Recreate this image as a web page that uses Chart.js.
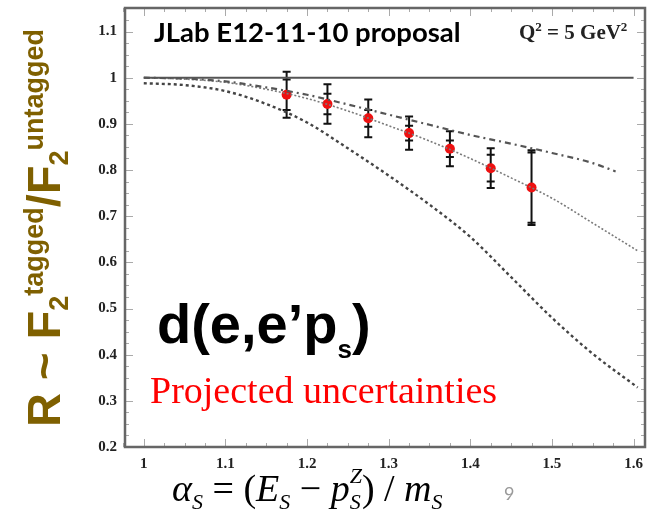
<!DOCTYPE html>
<html>
<head>
<meta charset="utf-8">
<script src="https://cdn.jsdelivr.net/npm/chart.js@4.4.1/dist/chart.umd.min.js"></script>
<style>
  html, body { margin: 0; padding: 0; background: #fff; }
</style>
</head>
<body>
<canvas id="ratio" width="651" height="516"></canvas>
<script>
// axis ticks
const alphaTicks = [1, 1.1, 1.2, 1.3, 1.4, 1.5, 1.6];
const ratioTicks = [0.2, 0.3, 0.4, 0.5, 0.6, 0.7, 0.8, 0.9, 1, 1.1];

// projected measurement: R with inner (stat) and outer (total) error bars
const alphaPoints = [1.175, 1.225, 1.275, 1.325, 1.375, 1.425, 1.475];
const ratioPoints = [0.963, 0.943, 0.912, 0.880, 0.846, 0.804, 0.762];
const statErr = [0.033, 0.022, 0.018, 0.016, 0.018, 0.029, 0.076];
const totalErr = [0.050, 0.043, 0.041, 0.036, 0.038, 0.043, 0.081];

// model curves
const flatAlpha = [1.0, 1.6];
const flatRatio = [1.0, 1.0];

const upperAlpha = [1.0, 1.05, 1.1, 1.15, 1.2, 1.25, 1.3, 1.35, 1.4, 1.45, 1.5, 1.55, 1.578];
const upperRatio = [1.0, 0.998, 0.992, 0.979, 0.963, 0.942, 0.920, 0.898, 0.876, 0.857, 0.837, 0.815, 0.797];

const midAlpha = [1.0, 1.05, 1.1, 1.15, 1.2, 1.25, 1.3, 1.35, 1.4, 1.45, 1.5, 1.55, 1.605];
const midRatio = [1.0, 0.997, 0.990, 0.975, 0.955, 0.928, 0.896, 0.863, 0.825, 0.783, 0.739, 0.685, 0.625];

const lowAlpha = [1.0, 1.05, 1.1, 1.15, 1.2, 1.25, 1.3, 1.35, 1.4, 1.45, 1.5, 1.55, 1.605];
const lowRatio = [0.988, 0.984, 0.971, 0.943, 0.903, 0.847, 0.788, 0.725, 0.655, 0.568, 0.480, 0.402, 0.329];


function toXY(xs, ys) {
  return xs.map((x, i) => ({ x: x, y: ys[i] }));
}

// draws a row of text pieces; a piece with stack:true shares its x with the next one
function drawRuns(ctx, x, y, runs) {
  let pending = 0;
  runs.forEach(r => {
    ctx.font = r.font;
    ctx.fillText(r.t, x, y + (r.dy || 0));
    const w = ctx.measureText(r.t).width;
    if (r.stack) {
      pending = w;
    } else {
      x += Math.max(w, pending);
      pending = 0;
    }
  });
  return x;
}

function runsWidth(ctx, runs) {
  let total = 0, pend = 0;
  runs.forEach(r => {
    ctx.font = r.font;
    const w = ctx.measureText(r.t).width;
    if (r.stack) { pend = w; } else { total += Math.max(w, pend); pend = 0; }
  });
  return total;
}


const frame = {
  id: 'frame',
  afterDraw(chart) {
    const { ctx, chartArea: a, scales: { x, y } } = chart;
    ctx.save();
    ctx.strokeStyle = '#aaa';
    ctx.lineWidth = 1;
    ctx.beginPath();
    // inward ticks, minor every quarter step
    for (let v = 0.975; v <= 1.6125; v += 0.025) {
      const px = Math.round(x.getPixelForValue(v)) + 0.5;
      const major = alphaTicks.some(t => Math.abs(t - v) < 1e-6);
      const len = major ? 8 : 4;
      ctx.moveTo(px, a.bottom); ctx.lineTo(px, a.bottom - len);
      ctx.moveTo(px, a.top); ctx.lineTo(px, a.top + len);
    }
    for (let v = 0.2; v <= 1.15; v += 0.025) {
      const py = Math.round(y.getPixelForValue(v)) + 0.5;
      const major = ratioTicks.some(t => Math.abs(t - v) < 1e-6);
      const len = major ? 8 : 4;
      ctx.moveTo(a.left, py); ctx.lineTo(a.left + len, py);
      ctx.moveTo(a.right, py); ctx.lineTo(a.right - len, py);
    }
    ctx.stroke();

    ctx.strokeStyle = '#666';
    ctx.lineWidth = 2.5;
    ctx.strokeRect(a.left, a.top, a.right - a.left, a.bottom - a.top);
    ctx.restore();
  }
};

const errorBars = {
  id: 'errorBars',
  beforeDatasetDraw(chart, args) {
    if (args.index !== chart.data.datasets.length - 1) return;
    const { ctx, scales: { x, y } } = chart;
    ctx.save();
    ctx.strokeStyle = '#111';
    ctx.lineWidth = 2;
    ctx.beginPath();
    alphaPoints.forEach((a, i) => {
      const px = x.getPixelForValue(a);
      const ends = [
        ratioPoints[i] + totalErr[i], ratioPoints[i] - totalErr[i],
        ratioPoints[i] + statErr[i], ratioPoints[i] - statErr[i]
      ].map(v => y.getPixelForValue(v));
      ctx.moveTo(px, ends[0]);
      ctx.lineTo(px, ends[1]);
      ends.forEach(py => {
        ctx.moveTo(px - 4, py);
        ctx.lineTo(px + 4, py);
      });
    });
    ctx.stroke();
    ctx.restore();
  }
};

const labels = {
  id: 'labels',
  afterDraw(chart) {
    const ctx = chart.ctx;
    ctx.save();
    ctx.textBaseline = 'alphabetic';
    ctx.textAlign = 'left';

    ctx.fillStyle = '#000';
    ctx.font = 'bold 27.5px Lato';
    ctx.fillText('JLab E12-11-10 proposal', 154, 42);

    ctx.fillStyle = '#222';
    const qs = 'bold 21px "Liberation Serif"';
    const qsup = 'bold 13px "Liberation Serif"';
    drawRuns(ctx, 519, 39, [
      { t: 'Q', font: qs },
      { t: '2', font: qsup, dy: -8 },
      { t: ' = 5 GeV', font: qs },
      { t: '2', font: qsup, dy: -8 }
    ]);

    ctx.fillStyle = '#000';
    drawRuns(ctx, 157, 343, [
      { t: 'd(e,e\u2019p', font: 'bold 56px "Liberation Sans"' },
      { t: 's', font: 'bold 26px "Liberation Sans"', dy: 15 },
      { t: ')', font: 'bold 56px "Liberation Sans"' }
    ]);

    ctx.fillStyle = '#ff0000';
    ctx.font = '38px "Liberation Serif"';
    ctx.fillText('Projected uncertainties', 150, 403);

    // x axis title
    ctx.fillStyle = '#000';
    const it = 'italic 38px "Liberation Serif"';
    const up = '38px "Liberation Serif"';
    const sub = 'italic 22px "Liberation Serif"';
    drawRuns(ctx, 172, 501, [
      { t: '\u03b1', font: it },
      { t: 'S', font: sub, dy: 8 },
      { t: ' = (', font: up },
      { t: 'E', font: it },
      { t: 'S', font: sub, dy: 8 },
      { t: ' \u2212 ', font: up },
      { t: 'p', font: it },
      { t: 'Z', font: sub, dy: -18, stack: true },
      { t: 'S', font: sub, dy: 8 },
      { t: ') / ', font: up },
      { t: 'm', font: it },
      { t: 'S', font: sub, dy: 8 }
    ]);

    ctx.fillStyle = '#999';
    ctx.font = '18px Lato';
    ctx.fillText('9', 504, 500);

    // y axis title, rotated; subscripts and superscripts run one after the other
    ctx.translate(60, 228);
    ctx.rotate(-Math.PI / 2);
    ctx.fillStyle = '#7f6000';
    const big = 'bold 47px "Liberation Sans"';
    const small = 'bold 27px "Liberation Sans"';
    const runs = [
      { t: 'R ~ F', font: big },
      { t: '2', font: small, dy: 8 },
      { t: 'tagged', font: small, dy: -17 },
      { t: '/F', font: big },
      { t: '2', font: small, dy: 8 },
      { t: 'untagged', font: small, dy: -17 }
    ];
    drawRuns(ctx, -runsWidth(ctx, runs) / 2, 0, runs);
    ctx.restore();
  }
};


const tickFont = { family: 'Liberation Serif', size: 15, weight: 'bold' };

new Chart('ratio', {
  type: 'scatter',
  data: {
    datasets: [
      {
        data: toXY(flatAlpha, flatRatio),
        showLine: true, borderColor: '#555', borderWidth: 2, pointRadius: 0
      },
      {
        data: toXY(upperAlpha, upperRatio),
        showLine: true, borderColor: '#555', borderWidth: 2.2, pointRadius: 0,
        borderDash: [6, 4, 2, 4], cubicInterpolationMode: 'monotone'
      },
      {
        data: toXY(midAlpha, midRatio),
        showLine: true, borderColor: '#7a7a7a', borderWidth: 1.6, pointRadius: 0,
        borderDash: [2, 2], cubicInterpolationMode: 'monotone'
      },
      {
        data: toXY(lowAlpha, lowRatio),
        showLine: true, borderColor: '#444', borderWidth: 2.4, pointRadius: 0,
        borderDash: [3, 3], cubicInterpolationMode: 'monotone'
      },
      {
        data: toXY(alphaPoints, ratioPoints),
        showLine: false, pointRadius: 5, pointBorderWidth: 0,
        pointBackgroundColor: '#ee1111', pointBorderColor: '#ee1111'
      }
    ]
  },
  options: {
    responsive: false,
    animation: false,
    devicePixelRatio: 1,
    layout: { padding: { top: 8, right: 6, left: 0, bottom: 0 } },
    plugins: { legend: { display: false }, tooltip: { enabled: false } },
    scales: {
      x: {
        type: 'linear', min: 0.977, max: 1.614,
        grid: { display: false, drawTicks: false },
        border: { display: false },
        ticks: { font: tickFont, color: '#222', padding: 8, callback: v => String(v) },
        afterBuildTicks: s => { s.ticks = alphaTicks.map(v => ({ value: v })); },
        afterFit: s => { s.height = 69; s.paddingLeft = 0; s.paddingRight = 0; }
      },
      y: {
        type: 'linear', min: 0.2, max: 1.151,
        grid: { display: false, drawTicks: false },
        border: { display: false },
        ticks: { font: tickFont, color: '#222', padding: 8, callback: v => String(v) },
        afterBuildTicks: s => { s.ticks = ratioTicks.map(v => ({ value: v })); },
        afterFit: s => { s.width = 125; s.paddingTop = 0; s.paddingBottom = 0; }
      }
    }
  },
  plugins: [frame, errorBars, labels]
});
</script>
</body>
</html>
